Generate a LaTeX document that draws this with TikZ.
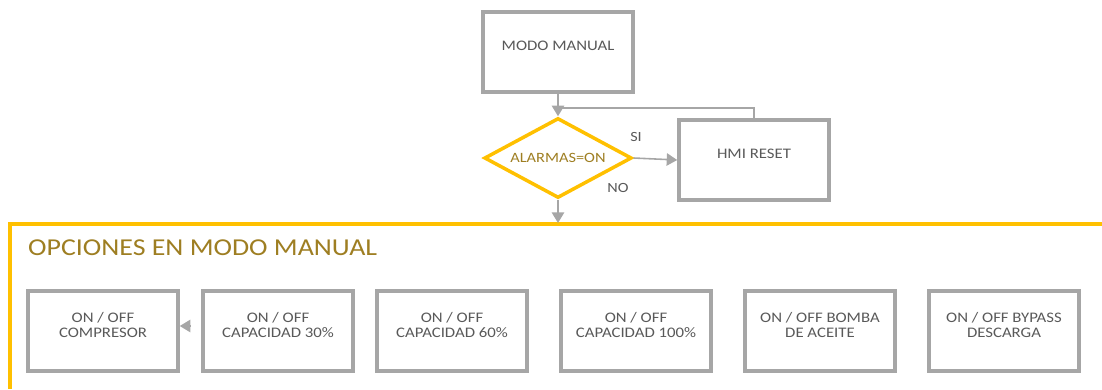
\documentclass[tikz,border=0pt]{standalone}
\usepackage{fontspec}
\setmainfont{Carlito}[FakeStretch=1.15]
\usetikzlibrary{arrows.meta,shapes.geometric}

\definecolor{amarillo}{HTML}{FFC000}
\definecolor{oro}{HTML}{9E7E22}
\definecolor{gris}{HTML}{A6A6A6}
\definecolor{textogris}{HTML}{595959}

\tikzset{
  caja/.style={draw=gris,line width=2pt,minimum width=3.0cm,minimum height=1.6cm,
    align=center,text=textogris,font=\fontsize{8.3}{8.8}\selectfont,text depth=0.24cm},
  rombo/.style={diamond,draw=amarillo,line width=2pt,aspect=1.85,minimum width=2.95cm,
    minimum height=1.6cm,inner sep=0pt,text=oro,font=\fontsize{8.1}{9}\selectfont},
  flecha/.style={draw=gris,line width=0.9pt,-{Triangle[length=6pt,width=7pt]}},
  etiqueta/.style={text=textogris,font=\fontsize{8}{9}\selectfont}
}

\begin{document}
\begin{tikzpicture}[x=0.02cm,y=-0.02cm]
        \useasboundingbox (0,0) rectangle (1102,389);
        % parte superior
        \node[caja] (modo) at (558,52) {MODO MANUAL};
        \node[rombo] (alarma) at (558,158) {ALARMAS=ON};
        \node[caja] (hmi) at (754,160) {HMI RESET};
        \coordinate (retorno) at (558,108);
        \draw[flecha] (modo.south) -- (alarma.north);
        \draw[draw=gris,line width=0.9pt] (hmi.north) -- (hmi.north |- retorno) -- (retorno);
        \draw[flecha] (alarma.east) -- (hmi.west);
        \node[etiqueta] (si) at (636,137) {SI};
        \node[etiqueta] (no) at (618,188) {NO};
        % marco de opciones
        \draw[draw=amarillo,line width=1.8pt] (10,389) -- (10,224) -- (1102,224);
        \coordinate (marco) at (558,223);
        \draw[flecha] (alarma.south) -- (marco);
        \node[anchor=west,text=oro,font=\fontsize{13.8}{15}\selectfont] (titulo) at (22,248) {OPCIONES EN MODO MANUAL};
        % opciones
        \node[caja] (comp) at (103,331) {ON / OFF\\COMPRESOR};
        \node[caja] (cap30) at (278,331) {ON / OFF\\CAPACIDAD 30\%};
        \node[caja] (cap60) at (452,331) {ON / OFF\\CAPACIDAD 60\%};
        \node[caja] (cap100) at (636,331) {ON / OFF\\CAPACIDAD 100\%};
        \node[caja] (bomba) at (820,331) {ON / OFF BOMBA\\DE ACEITE};
        \node[caja] (bypass) at (1004,331) {ON / OFF BYPASS\\DESCARGA};
        \coordinate (punta) at (190,326);
        \draw[flecha] (punta) -- (punta -| comp.east);
\end{tikzpicture}
\end{document}
